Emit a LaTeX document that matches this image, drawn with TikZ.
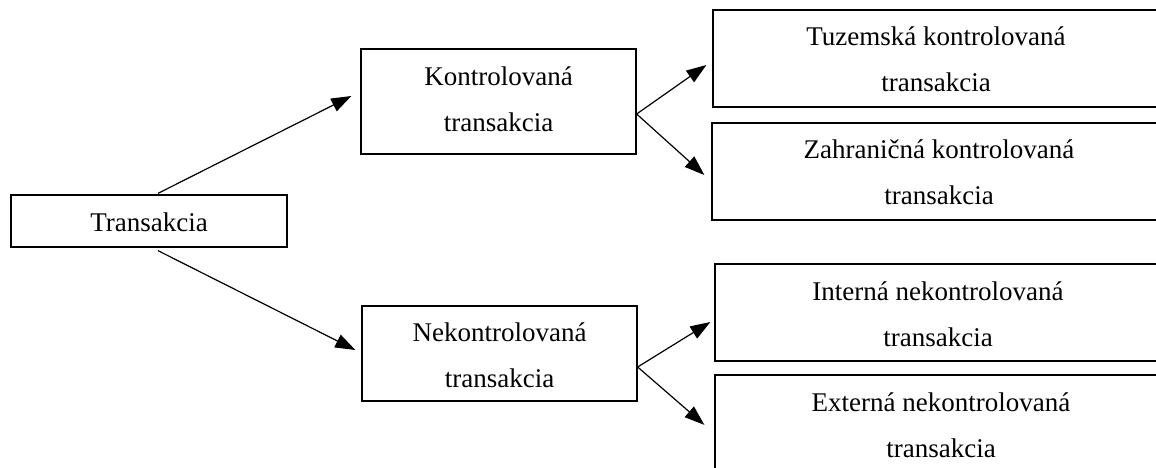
\documentclass[tikz,border=0pt]{standalone}
\usepackage{fontspec}
\setmainfont{Liberation Serif}
\usetikzlibrary{arrows.meta,calc}
\newcommand{\mytwo}[2]{\begin{tabular}[t]{@{}c@{}}#1\\#2\end{tabular}}
\tikzset{
  box/.style={draw, line width=1.3pt, inner sep=0pt, anchor=base,
    font=\fontsize{27}{46}\selectfont},
  arr/.style={-{Triangle[length=20pt,width=14pt]}, line width=1.2pt},
}
\begin{document}
\begin{tikzpicture}[x=1pt,y=-1pt]
\useasboundingbox (0,0) rectangle (1156,467);
\clip (0,0) rectangle (1156,467);
% boxes (anchor = first baseline)
\node[box, minimum width=276pt, text height=36.7pt, text depth=15.3pt] (tr) at (149,231.7) {Transakcia};
\node[box, minimum width=275pt, text height=36pt, text depth=69pt] (k) at (498.5,85) {\mytwo{Kontrolovaná}{transakcia}};
\node[box, minimum width=275pt, text height=35pt, text depth=60pt] (n) at (499.5,341) {\mytwo{Nekontrolovaná}{transakcia}};
\node[box, minimum width=446pt, text height=35pt, text depth=62pt] (t) at (936,45) {\mytwo{Tuzemská kontrolovaná}{transakcia}};
\node[box, minimum width=454pt, text height=35.3pt, text depth=61.7pt] (z) at (939,158.3) {\mytwo{Zahraničná kontrolovaná}{transakcia}};
\node[box, minimum width=446pt, text height=36pt, text depth=61pt] (i) at (938,300) {\mytwo{Interná nekontrolovaná}{transakcia}};
\node[box, minimum width=452pt, text height=36.7pt, text depth=60pt] (e) at (941,411.7) {\mytwo{Externá nekontrolovaná}{transakcia}};
% connectors
\draw[arr] ($(tr.north)+(9,-1)$) -- ($(k.west)+(-9,-5.5)$);
\draw[arr] ($(tr.south)+(9,3)$) -- ($(n.west)+(-6,-3.5)$);
\draw[arr] ($(k.east)+(0,12.5)$) -- ($(t.west)+(-6,6.5)$);
\draw[arr] ($(k.east)+(0,12.5)$) -- ($(z.west)+(-7,3.5)$);
\draw[arr] ($(n.east)+(0,13.5)$) -- ($(i.west)+(-4,9.5)$);
\draw[arr] ($(n.east)+(0,13.5)$) -- ($(e.west)+(-10,1.5)$);
\end{tikzpicture}
\end{document}
